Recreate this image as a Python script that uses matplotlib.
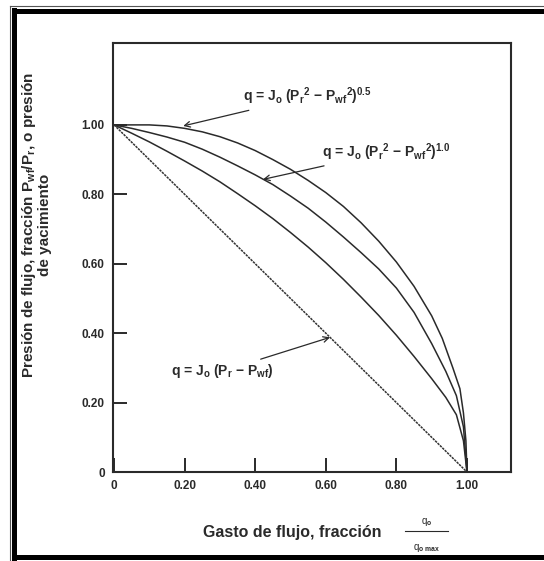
import matplotlib
matplotlib.use('Agg')
import matplotlib.pyplot as plt
from matplotlib.lines import Line2D

# curve readings (fraction of q max, fraction of Pr)
x_n05 = [0, 0.05, 0.10, 0.15, 0.20, 0.25, 0.30, 0.35, 0.40, 0.45, 0.50, 0.55, 0.60,
         0.65, 0.70, 0.75, 0.80, 0.85, 0.90, 0.93, 0.96, 0.98, 0.99, 0.997, 1.0]
y_n05 = [1.00, 1.00, 1.00, 0.997, 0.99, 0.98, 0.966, 0.948, 0.926, 0.90, 0.872, 0.84, 0.805,
         0.765, 0.718, 0.665, 0.605, 0.535, 0.45, 0.385, 0.30, 0.24, 0.17, 0.09, 0.0]

x_n10 = [0, 0.05, 0.10, 0.15, 0.20, 0.25, 0.30, 0.35, 0.40, 0.45, 0.50, 0.55, 0.60,
         0.65, 0.70, 0.75, 0.80, 0.85, 0.90, 0.94, 0.97, 0.99, 1.0]
y_n10 = [1.00, 0.99, 0.978, 0.965, 0.95, 0.93, 0.907, 0.882, 0.856, 0.828, 0.795, 0.76, 0.72,
         0.677, 0.632, 0.585, 0.53, 0.46, 0.37, 0.29, 0.22, 0.13, 0.0]

x_mid = [0, 0.05, 0.10, 0.15, 0.20, 0.25, 0.30, 0.35, 0.40, 0.45, 0.50, 0.55, 0.60,
         0.65, 0.70, 0.75, 0.80, 0.85, 0.90, 0.94, 0.97, 0.99, 1.0]
y_mid = [1.00, 0.976, 0.951, 0.924, 0.896, 0.867, 0.836, 0.802, 0.767, 0.73, 0.69, 0.648, 0.603,
         0.555, 0.504, 0.451, 0.394, 0.333, 0.269, 0.215, 0.165, 0.09, 0.0]

x_lin = [0, 1.0]
y_lin = [1.0, 0.0]

ticks = [0, 0.2, 0.4, 0.6, 0.8, 1.0]
x_ticklabels = ['0', '0.20', '0.40', '0.60', '0.80', '1.00']
y_ticklabels = ['0', '0.20', '0.40', '0.60', '0.80', '1.00']

ink = '#2a2a2a'
plt.rcParams['font.family'] = ['Liberation Sans', 'DejaVu Sans']
plt.rcParams['mathtext.fontset'] = 'custom'
plt.rcParams['mathtext.rm'] = 'Liberation Sans:bold'
plt.rcParams['mathtext.it'] = 'Liberation Sans:bold'
plt.rcParams['mathtext.bf'] = 'Liberation Sans:bold'

fig = plt.figure(figsize=(5.44, 5.61), dpi=100)
ax = fig.add_axes([0.2077, 0.1586, 0.7318, 0.7648])

for xs, ys in [(x_n05, y_n05), (x_n10, y_n10), (x_mid, y_mid)]:
    ax.plot(xs, ys, color=ink, lw=1.1, solid_capstyle='round')
ax.plot(x_lin, y_lin, color='#333333', lw=1.1, linestyle=(0, (1.6, 0.6)))

ax.set_xlim(-0.003, 1.125)
ax.set_ylim(0, 1.236)
ax.set_xticks(ticks)
ax.set_xticklabels(x_ticklabels)
ax.set_yticks(ticks)
ax.set_yticklabels(y_ticklabels)
ax.tick_params(direction='in', length=10, width=1.4, color=ink, labelsize=8.5,
               labelcolor=ink, pad=6)
for lab in ax.get_xticklabels() + ax.get_yticklabels():
    lab.set_fontweight('bold')
for sp in ax.spines.values():
    sp.set_linewidth(1.5)
    sp.set_color(ink)

arrow = dict(arrowstyle='->', color=ink, lw=0.9, shrinkA=1, shrinkB=0)
ax.annotate(r'q = J$_o$ (P$_r$$^2$ $-$ P$_{wf}$$^2$)$^{0.5}$', xy=(0.196, 0.997), xytext=(0.365, 1.082),
            fontsize=10, fontweight='bold', color=ink, va='center', ha='left', arrowprops=arrow)
ax.annotate(r'q = J$_o$ (P$_r$$^2$ $-$ P$_{wf}$$^2$)$^{1.0}$', xy=(0.422, 0.843), xytext=(0.59, 0.922),
            fontsize=10, fontweight='bold', color=ink, va='center', ha='left', arrowprops=arrow)
ax.annotate(r'q = J$_o$ (P$_r$ $-$ P$_{wf}$)', xy=(0.612, 0.388), xytext=(0.16, 0.29),
            fontsize=10, fontweight='bold', color=ink, va='center', ha='left', arrowprops=arrow)

fig.text(0.066, 0.60, 'Presión de flujo, fracción P$_{wf}$/P$_r$, o presión\nde yacimiento',
         rotation=90, ha='center', va='center', fontsize=11, fontweight='bold', color=ink,
         linespacing=1.05)
fig.text(0.537, 0.05, 'Gasto de flujo, fracción', ha='center', va='center',
         fontsize=11.5, fontweight='bold', color=ink)
fig.text(0.785, 0.07, 'q$_o$', ha='center', va='center', fontsize=7, color=ink)
fig.text(0.785, 0.023, 'q$_{o\\ max}$', ha='center', va='center', fontsize=7, color=ink)
fig.add_artist(Line2D([0.745, 0.823], [0.053, 0.053], color=ink, lw=0.8))

# scanned page frame
fig.add_artist(Line2D([0.0185, 0.0185], [0.0, 0.99], color='#555555', lw=0.8))
fig.add_artist(Line2D([0.0266, 0.0266], [0.005, 0.983], color='black', lw=3.6))
fig.add_artist(Line2D([0.0185, 1.0], [0.989, 0.989], color='#555555', lw=0.8))
fig.add_artist(Line2D([0.0266, 1.0], [0.981, 0.981], color='black', lw=3.6))
fig.add_artist(Line2D([0.0266, 1.0], [0.008, 0.008], color='black', lw=3.6))

fig.savefig('out.png', dpi=100)
